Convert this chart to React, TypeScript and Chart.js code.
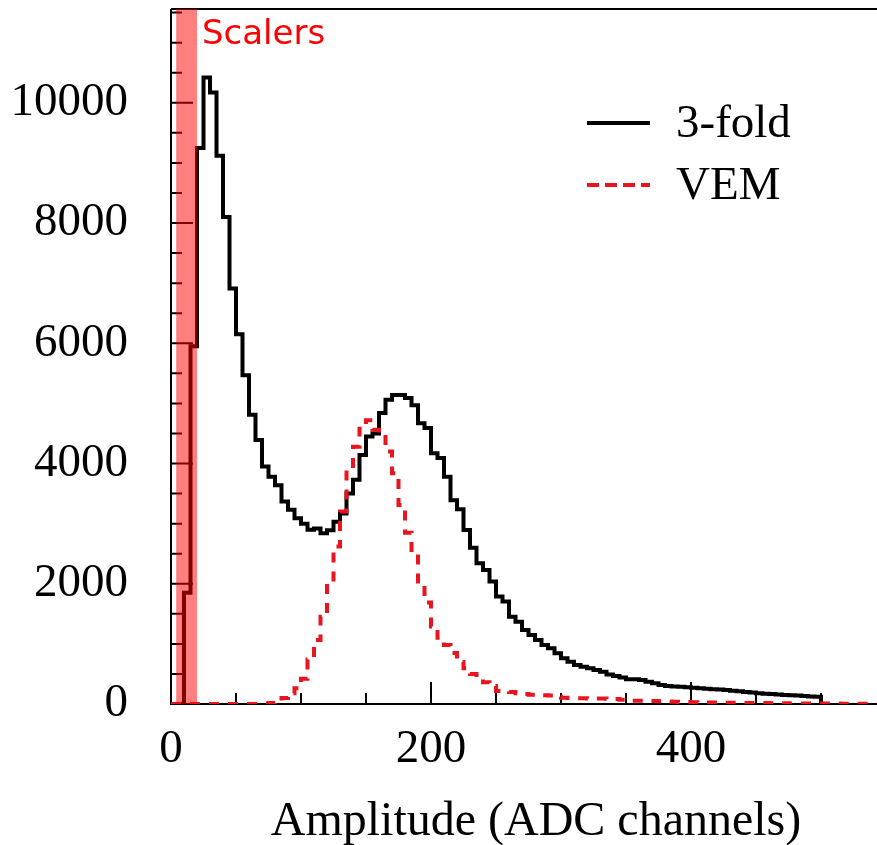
import React, { useEffect, useRef } from 'react';
import { Chart, registerables } from 'chart.js';

Chart.register(...registerables);

// ---- data ----
const BIN_WIDTH = 5; // ADC channels per bin

// 3-fold coincidence histogram, bins starting at 0 (width 5), up to 500
const threeFold = [
  0, 0, 1850, 5950, 9250, 10420, 10170, 9120, 8100, 6910,
  6150, 5470, 4810, 4390, 3950, 3780, 3640, 3370, 3230, 3090,
  3000, 2900, 2920, 2840, 2890, 3030, 3170, 3500, 3730, 4140,
  4450, 4500, 4840, 5060, 5140, 5140, 5090, 4970, 4670, 4590,
  4170, 4090, 3780, 3390, 3240, 2895, 2600, 2340, 2230, 2036,
  1786, 1703, 1453, 1370, 1231, 1148, 1065, 982, 926, 843,
  760, 704, 649, 621, 593, 566, 538, 490, 465, 440,
  410, 410, 399, 371, 344, 316, 300, 290, 285, 278,
  270, 262, 255, 245, 240, 232, 222, 210, 200, 190,
  180, 172, 165, 158, 150, 145, 140, 132, 126, 120,
];

// VEM histogram, bins starting at 0 (width 5), up to 560
const vem = [
  0, 0, 0, 0, 0, 0, 0, 0, 0, 0,
  0, 0, 0, 0, 0, 15, 40, 100, 177, 260,
  420, 740, 1065, 1450, 2030, 2620, 3200, 3920, 4280, 4580,
  4720, 4560, 4480, 4200, 3840, 3310, 2850, 2507, 2000, 1690,
  1290, 1100, 982, 850, 700, 593, 500, 430, 360, 300,
  216, 210, 200, 180, 165, 155, 150, 145, 140, 120,
  105, 100, 95, 95, 90, 90, 90, 85, 85, 70,
  60, 55, 55, 50, 50, 45, 40, 38, 35, 32,
  30, 28, 26, 25, 24, 22, 20, 20, 18, 16,
  15, 15, 14, 12, 12, 10, 10, 10, 9, 8,
  8, 7, 7, 6, 6, 5, 5, 5, 4, 4,
  4, 3,
];

const seriesLabels = ['3-fold', 'VEM'];
const xTickLabels = [0, 200, 400];
const yTickLabels = [0, 2000, 4000, 6000, 8000, 10000];
const X_MAX = 560;
const Y_MAX = 11560;
const X_MINOR_STEP = 50;
const Y_MINOR_STEP = 500;
const scalerBand = [4, 20]; // ADC range marked as "Scalers"
const scalerLabel = 'Scalers';
const xTitle = 'Amplitude (ADC channels)';

const SERIF = "'Liberation Serif', 'Times New Roman', serif";

const toSteps = (vals: number[]) => [
  ...vals.map((v, i) => ({ x: i * BIN_WIDTH, y: v })),
  { x: vals.length * BIN_WIDTH, y: 0 },
];

const framePlugin = {
  id: 'rootFrame',
  beforeDatasetsDraw(chart: any) {
    const { ctx, chartArea } = chart;
    const xs = chart.scales.x;
    const ys = chart.scales.y;
    ctx.save();
    ctx.strokeStyle = '#000';
    ctx.lineWidth = 2;
    ctx.beginPath();
    ctx.moveTo(chartArea.left, chartArea.top);
    ctx.lineTo(chartArea.right, chartArea.top);
    ctx.moveTo(chartArea.left, chartArea.top);
    ctx.lineTo(chartArea.left, chartArea.bottom);
    ctx.lineTo(chartArea.right, chartArea.bottom);
    ctx.stroke();
    ctx.beginPath();
    for (let v = 0; v <= X_MAX; v += X_MINOR_STEP) {
      const px = xs.getPixelForValue(v);
      const len = v % 200 === 0 ? 22 : 11;
      ctx.moveTo(px, chartArea.bottom);
      ctx.lineTo(px, chartArea.bottom - len);
    }
    for (let v = 0; v <= Y_MAX; v += Y_MINOR_STEP) {
      const py = ys.getPixelForValue(v);
      const len = v % 2000 === 0 ? 22 : 11;
      ctx.moveTo(chartArea.left, py);
      ctx.lineTo(chartArea.left + len, py);
    }
    ctx.stroke();

    // tick labels
    ctx.fillStyle = '#000';
    ctx.font = `47px ${SERIF}`;
    ctx.textBaseline = 'middle';
    ctx.textAlign = 'right';
    yTickLabels.forEach((v) => {
      ctx.fillText(String(v), chartArea.left - 43, ys.getPixelForValue(v));
    });
    ctx.textAlign = 'center';
    xTickLabels.forEach((v) => {
      ctx.fillText(String(v), xs.getPixelForValue(v), chartArea.bottom + 46);
    });
    ctx.font = `48px ${SERIF}`;
    ctx.fillText(xTitle, (chartArea.left + chartArea.right) / 2 + 1, chartArea.bottom + 118);
    ctx.restore();
  },
};

const overlayPlugin = {
  id: 'overlay',
  afterDatasetsDraw(chart: any) {
    const { ctx, chartArea } = chart;
    const xs = chart.scales.x;
    const x1 = xs.getPixelForValue(scalerBand[0]);
    const x2 = xs.getPixelForValue(scalerBand[1]);
    ctx.save();
    ctx.fillStyle = 'rgba(255,0,0,0.5)';
    ctx.fillRect(x1, chartArea.top, x2 - x1, chartArea.bottom - chartArea.top);
    ctx.fillStyle = '#ff0000';
    ctx.font = "34px 'DejaVu Sans', sans-serif";
    ctx.textBaseline = 'alphabetic';
    ctx.textAlign = 'left';
    ctx.fillText(scalerLabel, x2 + 5, chartArea.top + 35);

    // legend
    const lx = chartArea.left + 416;
    const ly = chartArea.top + 114;
    const rowH = 62;
    chart.data.datasets.forEach((ds: any, i: number) => {
      const y = ly + i * rowH;
      ctx.strokeStyle = ds.borderColor;
      ctx.lineWidth = ds.borderWidth;
      ctx.setLineDash(i === 1 ? [12, 6] : []);
      ctx.beginPath();
      ctx.moveTo(lx, y);
      ctx.lineTo(lx + 63, y);
      ctx.stroke();
      ctx.setLineDash([]);
      ctx.fillStyle = '#000';
      ctx.font = `47px ${SERIF}`;
      ctx.fillText(ds.label, lx + 89, y + 14);
    });
    ctx.restore();
  },
};

export default function App() {
  const ref = useRef<HTMLCanvasElement | null>(null);
  useEffect(() => {
    if (!ref.current) return;
    const chart = new Chart(ref.current, {
      type: 'line',
      data: {
        datasets: [
          {
            label: seriesLabels[0],
            data: toSteps(threeFold),
            borderColor: '#000000',
            borderWidth: 4,
            stepped: 'before',
            pointRadius: 0,
            fill: false,
            order: 1,
          },
          {
            label: seriesLabels[1],
            data: toSteps(vem),
            borderColor: '#e8141e',
            borderWidth: 4,
            borderDash: [10, 9],
            stepped: 'before',
            pointRadius: 0,
            fill: false,
            order: 0,
          },
        ],
      },
      options: {
        animation: false,
        responsive: false,
        maintainAspectRatio: false,
        layout: { autoPadding: false, padding: { left: 0, right: 1, top: 9, bottom: 0 } },
        plugins: { legend: { display: false }, tooltip: { enabled: false }, title: { display: false } },
        scales: {
          x: {
            type: 'linear',
            min: 0,
            max: X_MAX,
            grid: { display: false },
            border: { display: false },
            ticks: { display: false },
            title: { display: false },
            afterFit: (s: any) => {
              s.height = 141;
            },
          },
          y: {
            type: 'linear',
            min: 0,
            max: Y_MAX,
            grid: { display: false },
            border: { display: false },
            ticks: { display: false },
            afterFit: (s: any) => {
              s.width = 171;
            },
          },
        },
      },
      plugins: [framePlugin, overlayPlugin],
    } as any);
    return () => chart.destroy();
  }, []);
  return (
    <div style={{ position: 'absolute', left: 0, top: 0, width: 877, height: 845, overflow: 'hidden', background: '#fff' }}>
      <canvas ref={ref} width={900} height={845} style={{ display: 'block', width: 900, height: 845 }} />
    </div>
  );
}
